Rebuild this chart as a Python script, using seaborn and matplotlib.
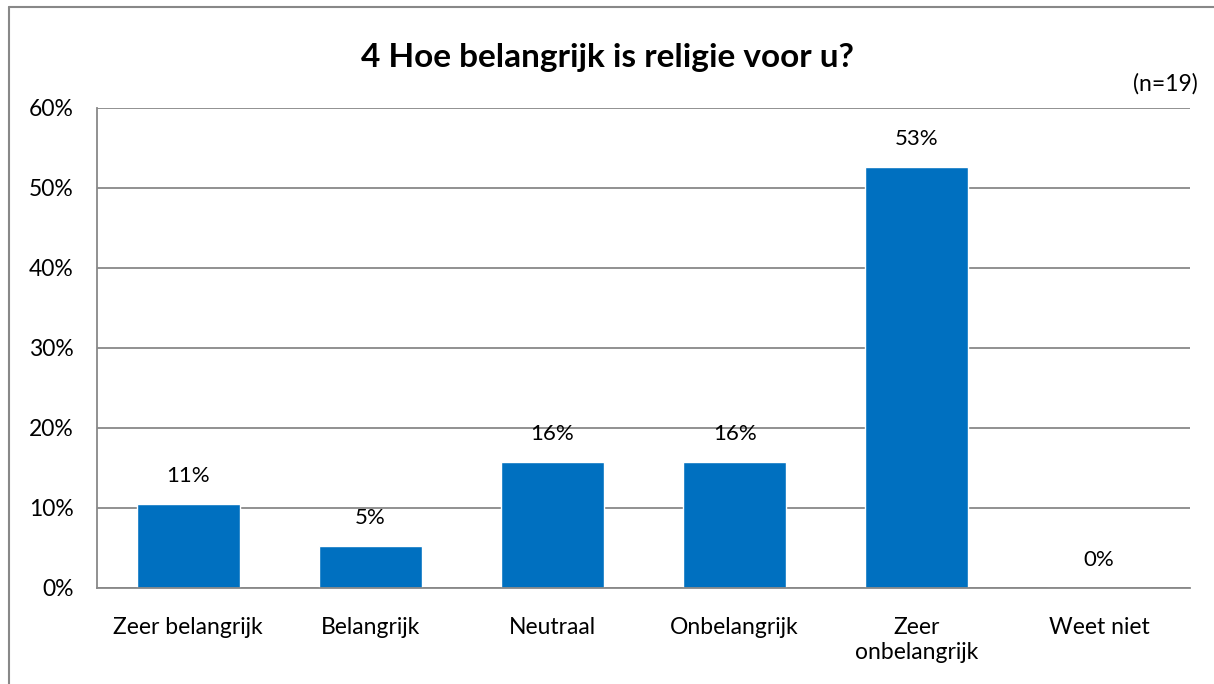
import matplotlib
matplotlib.use("Agg")
import pandas as pd
import seaborn as sns
from matplotlib import pyplot as plt
from matplotlib.ticker import PercentFormatter

categories = ["Zeer belangrijk", "Belangrijk", "Neutraal", "Onbelangrijk",
              "Zeer\nonbelangrijk", "Weet niet"]
percentages = [10.53, 5.26, 15.79, 15.79, 52.63, 0.0]
title = "4 Hoe belangrijk is religie voor u?"
n_label = "(n=19)"

sns.set_style("white")
plt.rcParams['font.family'] = ['Lato', 'DejaVu Sans']
plt.rcParams['text.color'] = 'black'
plt.rcParams['xtick.labelcolor'] = 'black'
plt.rcParams['ytick.labelcolor'] = 'black'

df = pd.DataFrame({"cat": categories, "pct": percentages})

W, H = 1214, 684
fig = plt.figure(figsize=(W / 100, H / 100), dpi=100)
ax = fig.add_axes([97 / W, 1 - 588 / H, (1190 - 97) / W, (588 - 108) / H])

sns.barplot(data=df, x="cat", y="pct", color="#0070C0", saturation=1,
            width=0.565, ax=ax)

for i, v in enumerate(percentages):
    ax.annotate(f"{v:.0f}%", (i, v), xytext=(0, 20), textcoords="offset points",
                ha="center", va="center", fontsize=16, color="black")

ax.set_ylim(0, 60)
ax.set_xlim(-0.5, len(categories) - 0.5)
ax.set_yticks(range(0, 61, 10))
ax.yaxis.set_major_formatter(PercentFormatter(decimals=0))
ax.yaxis.grid(True, color="#888888", linewidth=1.3)
ax.set_axisbelow(True)
ax.tick_params(axis="y", length=6, width=1.3, color="#888888", labelsize=16.5,
               pad=11, labelcolor="black")
ax.tick_params(axis="x", which="major", length=0, labelsize=16.5, pad=21,
               labelcolor="black")
for lbl in ax.get_xticklabels():
    lbl.set_linespacing(1.25)
ax.set_xticks([i - 0.5 for i in range(len(categories) + 1)], minor=True)
ax.tick_params(axis="x", which="minor", length=7, width=1.3, color="#888888")
ax.set_xlabel("")
ax.set_ylabel("")
for s in ["top", "right"]:
    ax.spines[s].set_visible(False)
for s in ["left", "bottom"]:
    ax.spines[s].set_color("#888888")
    ax.spines[s].set_linewidth(1.3)

fig.text(0.5, 1 - 57 / H, title, ha="center", va="center", fontsize=24,
         fontweight="bold", color="black")
fig.text(1198 / W, 1 - 84 / H, n_label, ha="right", va="center", fontsize=16.5,
         color="black")

# chart frame (cropped on right and bottom)
fig.add_artist(plt.Line2D([9 / W, 9 / W], [0, 1 - 7 / H], color="#888888", lw=1.5))
fig.add_artist(plt.Line2D([9 / W, 1], [1 - 7 / H, 1 - 7 / H], color="#888888", lw=1.5))

fig.savefig("out.png", dpi=100)
